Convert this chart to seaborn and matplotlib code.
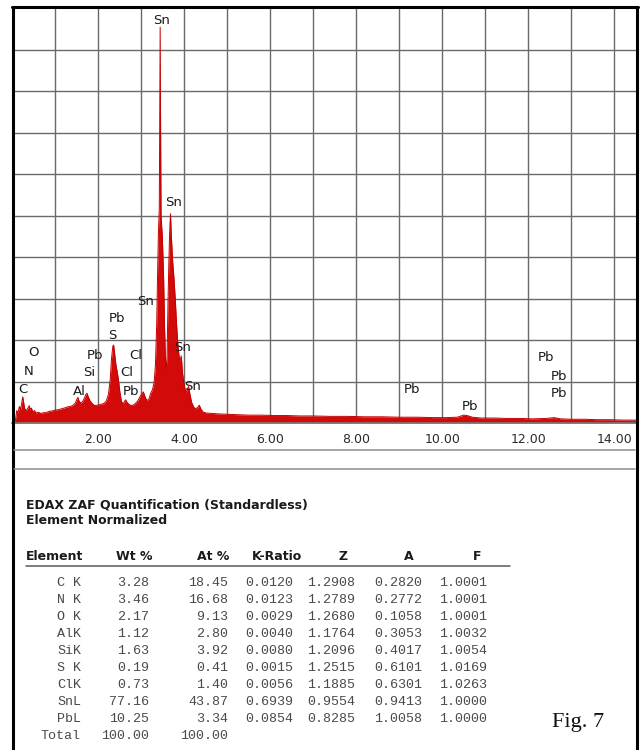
import matplotlib
matplotlib.use("Agg")
import matplotlib.pyplot as plt
from matplotlib.lines import Line2D
import seaborn as sns
import pandas as pd

# EDS spectrum (energy in keV, intensity in grid units)
energy_kev = [
    0.08, 0.12, 0.15, 0.18, 0.21, 0.24, 0.26, 0.28, 0.30, 0.33, 0.36, 0.39, 0.41,
    0.43, 0.46, 0.49, 0.53, 0.57, 0.62, 0.68, 0.74, 0.80, 0.87, 0.94, 1.00, 1.08,
    1.15, 1.22, 1.30, 1.37, 1.43, 1.48, 1.51, 1.54, 1.57, 1.61, 1.65, 1.69, 1.72,
    1.75, 1.78, 1.82, 1.87, 1.93, 2.00, 2.07, 2.14, 2.20, 2.25, 2.29, 2.32, 2.35,
    2.37, 2.39, 2.42, 2.45, 2.48, 2.51, 2.55, 2.59, 2.62, 2.65, 2.69, 2.74, 2.80,
    2.86, 2.92, 2.97, 3.02, 3.06, 3.10, 3.14, 3.19, 3.23, 3.27, 3.31, 3.34, 3.37,
    3.39, 3.41, 3.43, 3.44, 3.45, 3.46, 3.47, 3.50, 3.53, 3.55, 3.57, 3.59, 3.61,
    3.63, 3.65, 3.67, 3.69, 3.71, 3.74, 3.77, 3.80, 3.83, 3.86, 3.89, 3.91, 3.94,
    3.97, 4.01, 4.05, 4.08, 4.11, 4.14, 4.18, 4.23, 4.28, 4.33, 4.36, 4.39, 4.44,
    4.52, 4.65, 4.80, 5.00, 5.25, 5.50, 5.80, 6.10, 6.40, 6.70, 7.00, 7.40, 7.80,
    8.20, 8.60, 9.00, 9.40, 9.80, 10.10, 10.35, 10.50, 10.58, 10.70, 10.90, 11.20,
    11.50, 11.80, 12.10, 12.40, 12.60, 12.75, 13.00, 13.30, 13.60, 13.90, 14.20,
    14.52,
]
intensity = [
    0.00, 0.30, 0.24, 0.40, 0.32, 0.52, 0.63, 0.50, 0.36, 0.30, 0.33, 0.38, 0.42,
    0.33, 0.36, 0.27, 0.30, 0.24, 0.26, 0.23, 0.25, 0.25, 0.28, 0.29, 0.31, 0.32,
    0.34, 0.36, 0.39, 0.40, 0.43, 0.48, 0.56, 0.62, 0.52, 0.48, 0.52, 0.60, 0.68,
    0.72, 0.63, 0.54, 0.47, 0.42, 0.43, 0.45, 0.47, 0.53, 0.70, 1.05, 1.55, 1.85,
    1.88, 1.70, 1.42, 1.25, 1.05, 0.78, 0.52, 0.46, 0.52, 0.56, 0.48, 0.44, 0.42,
    0.46, 0.52, 0.61, 0.70, 0.75, 0.63, 0.54, 0.58, 0.72, 0.80, 0.98, 1.40, 2.40,
    3.60, 4.60, 5.20, 7.50, 9.55, 7.00, 5.00, 4.50, 3.50, 2.40, 1.60, 1.25, 1.60,
    2.80, 3.80, 4.60, 5.05, 4.50, 3.90, 3.50, 3.00, 2.40, 1.90, 1.60, 1.50, 1.62,
    1.20, 0.90, 0.72, 0.82, 0.88, 0.70, 0.50, 0.38, 0.34, 0.39, 0.43, 0.35, 0.27,
    0.24, 0.23, 0.22, 0.21, 0.20, 0.19, 0.19, 0.18, 0.18, 0.17, 0.17, 0.16, 0.16,
    0.15, 0.15, 0.14, 0.14, 0.13, 0.13, 0.14, 0.19, 0.18, 0.14, 0.12, 0.12,
    0.11, 0.11, 0.10, 0.11, 0.13, 0.10, 0.09, 0.09, 0.08, 0.08, 0.07,
    0.07,
]

# Peak identification labels
peak_labels = ["Sn", "Sn", "Sn", "Sn", "Sn", "O", "N", "C", "Pb", "Si", "Al",
               "Pb", "S", "Cl", "Cl", "Pb", "Pb", "Pb", "Pb", "Pb", "Pb"]
peak_label_x = [3.49, 3.75, 3.12, 3.98, 4.21, 0.52, 0.40, 0.26, 1.94, 1.80, 1.57,
                2.45, 2.33, 2.89, 2.68, 2.77, 9.30, 10.65, 12.41, 12.71, 12.71]
peak_label_y = [9.72, 5.31, 2.94, 1.83, 0.87, 1.69, 1.25, 0.82, 1.62, 1.21, 0.75,
                2.53, 2.10, 1.62, 1.21, 0.75, 0.82, 0.39, 1.57, 1.13, 0.70]

tick_values = [2, 4, 6, 8, 10, 12, 14]
tick_labels = ["2.00", "4.00", "6.00", "8.00", "10.00", "12.00", "14.00"]

# Quantification results
elements = ["C K", "N K", "O K", "AlK", "SiK", "S K", "ClK", "SnL", "PbL"]
wt_pct = [3.28, 3.46, 2.17, 1.12, 1.63, 0.19, 0.73, 77.16, 10.25]
at_pct = [18.45, 16.68, 9.13, 2.80, 3.92, 0.41, 1.40, 43.87, 3.34]
k_ratio = [0.0120, 0.0123, 0.0029, 0.0040, 0.0080, 0.0015, 0.0056, 0.6939, 0.0854]
z_corr = [1.2908, 1.2789, 1.2680, 1.1764, 1.2096, 1.2515, 1.1885, 0.9554, 0.8285]
a_corr = [0.2820, 0.2772, 0.1058, 0.3053, 0.4017, 0.6101, 0.6301, 0.9413, 1.0058]
f_corr = [1.0001, 1.0001, 1.0001, 1.0032, 1.0054, 1.0169, 1.0263, 1.0000, 1.0000]
total_wt = 100.00
total_at = 100.00

sns.set_style("white")
plt.rcParams["font.family"] = ["DejaVu Sans"]

W, H = 640, 750
fig = plt.figure(figsize=(W / 100, H / 100), dpi=100)


def fx(px):
    return px / W


def fy(py):
    return 1 - py / H


# spectrum panel
ax_left, ax_right, ax_top, ax_bottom = 11.6, 637.0, 7.5, 423.0
ax = fig.add_axes([fx(ax_left), fy(ax_bottom), fx(ax_right - ax_left),
                   (ax_bottom - ax_top) / H])
red = "#d20a0a"
spec = pd.DataFrame({"energy": energy_kev, "intensity": intensity})
ax.fill_between(spec["energy"], spec["intensity"], 0, color=red, lw=0, zorder=3)
sns.lineplot(data=spec, x="energy", y="intensity", ax=ax, color="#c40000",
             lw=0.7, zorder=4)

ax.set_xlim(0, (ax_right - ax_left) / 43.06)
ax.set_ylim(0, (ax_bottom - ax_top) / 41.44)
ax.set_xticks(tick_values)
ax.set_xticklabels(tick_labels)
ax.set_xticks(range(1, 15), minor=True)
ax.set_yticks(range(1, 10))
ax.set_yticklabels([])
ax.tick_params(axis="y", length=0)
ax.tick_params(axis="x", which="major", length=3, width=1, color="#444",
               direction="out", pad=4, labelsize=9, labelcolor="#2a2a2a")
ax.tick_params(axis="x", which="minor", length=0)
ax.grid(True, which="both", axis="x", color="#6a6a6a", lw=1.0, zorder=1)
ax.grid(True, which="major", axis="y", color="#6a6a6a", lw=1.0, zorder=1)
ax.set_xlabel("")
ax.set_ylabel("")
for side in ["top", "left", "right"]:
    ax.spines[side].set_visible(False)
ax.spines["bottom"].set_color("#7a7a7a")
ax.spines["bottom"].set_linewidth(1.2)
ax.spines["bottom"].set_zorder(5)

for lab, x, y in zip(peak_labels, peak_label_x, peak_label_y):
    ax.text(x, y, lab, ha="center", va="center", fontsize=9.5, color="#1a1a1a",
            zorder=6)

# outer frame
frame_kw = dict(transform=fig.transFigure, color="black", lw=2.2)
fig.add_artist(Line2D([fx(13), fx(13)], [fy(6.5), 0], **frame_kw))
fig.add_artist(Line2D([fx(12), fx(638)], [fy(6.5), fy(6.5)], **frame_kw))
fig.add_artist(Line2D([fx(636.5), fx(636.5)], [fy(6.5), 0], **frame_kw))

# separator rules under the axis
for py in (450, 469):
    fig.add_artist(Line2D([fx(14), fx(635)], [fy(py), fy(py)],
                          transform=fig.transFigure, color="#8c8c8c", lw=1.1))

# quantification table
fig.text(fx(26), fy(505), "EDAX ZAF Quantification (Standardless)",
         fontsize=9, fontweight="bold", color="#1a1a1a", ha="left", va="center")
fig.text(fx(26), fy(521), "Element Normalized",
         fontsize=9, fontweight="bold", color="#1a1a1a", ha="left", va="center")

hdr_y = 557
hdr_kw = dict(fontsize=9, fontweight="bold", color="#1a1a1a", va="center")
fig.text(fx(26), fy(hdr_y), "Element", ha="left", **hdr_kw)
fig.text(fx(153), fy(hdr_y), "Wt %", ha="right", **hdr_kw)
fig.text(fx(229), fy(hdr_y), "At %", ha="right", **hdr_kw)
fig.text(fx(302), fy(hdr_y), "K-Ratio", ha="right", **hdr_kw)
fig.text(fx(343), fy(hdr_y), "Z", ha="center", **hdr_kw)
fig.text(fx(409), fy(hdr_y), "A", ha="center", **hdr_kw)
fig.text(fx(477), fy(hdr_y), "F", ha="center", **hdr_kw)
fig.add_artist(Line2D([fx(26), fx(510)], [fy(566), fy(566)],
                      transform=fig.transFigure, color="#5a5a5a", lw=1.1))

mono = dict(family="Liberation Mono", fontsize=9.6, color="#4a4a4a",
            va="center", ha="right")
col_right = [81, 149, 228, 293, 355, 422, 487]
row0, row_step = 583, 17
for i in range(len(elements)):
    py = row0 + i * row_step
    cells = [elements[i], f"{wt_pct[i]:.2f}", f"{at_pct[i]:.2f}",
             f"{k_ratio[i]:.4f}", f"{z_corr[i]:.4f}", f"{a_corr[i]:.4f}",
             f"{f_corr[i]:.4f}"]
    for cx, s in zip(col_right, cells):
        fig.text(fx(cx), fy(py), s, **mono)
py = row0 + len(elements) * row_step
fig.text(fx(col_right[0]), fy(py), "Total", **mono)
fig.text(fx(col_right[1]), fy(py), f"{total_wt:.2f}", **mono)
fig.text(fx(col_right[2]), fy(py), f"{total_at:.2f}", **mono)

fig.text(fx(578), fy(722), "Fig. 7", family="Liberation Serif", fontsize=16,
         color="#111111", ha="center", va="center")

fig.savefig("out.png", dpi=100, facecolor="white")
